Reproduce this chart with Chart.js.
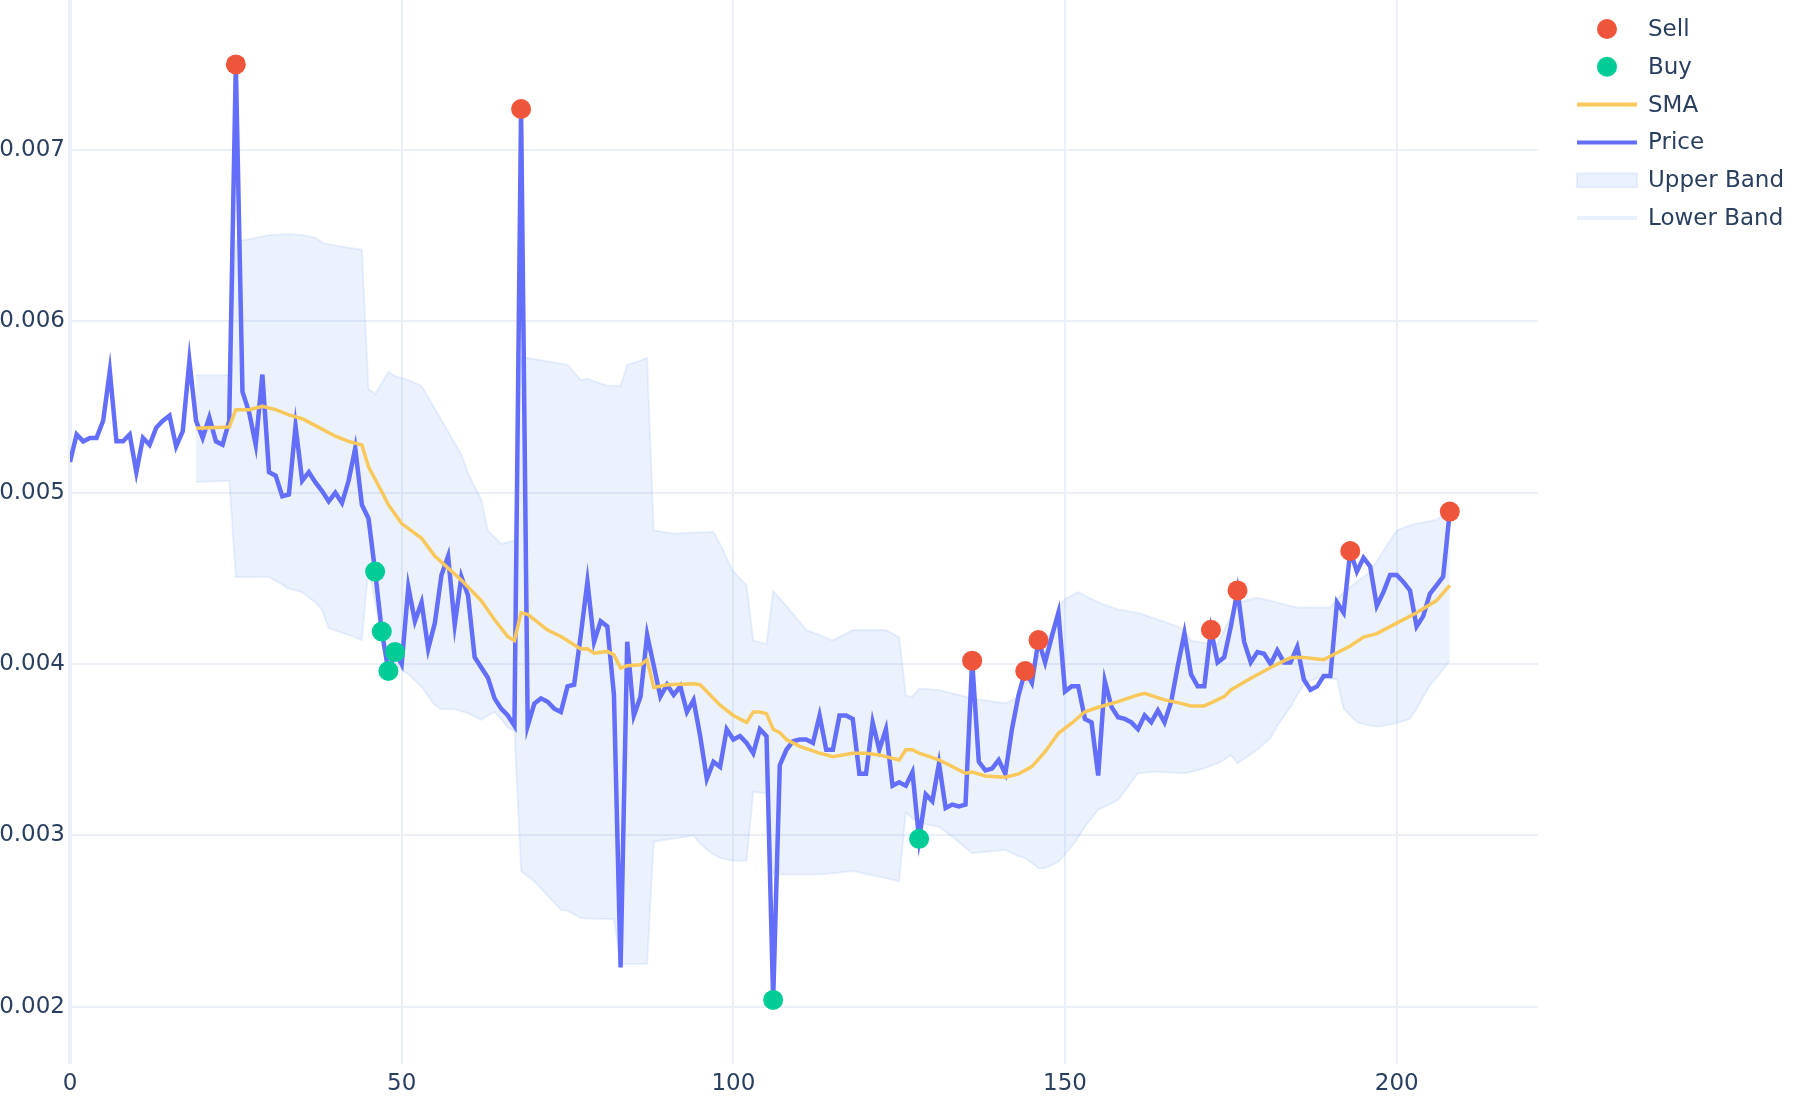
<!DOCTYPE html>
<html>
<head>
<meta charset="utf-8">
<script src="https://cdn.jsdelivr.net/npm/chart.js@4.4.1/dist/chart.umd.min.js"></script>
<style>
  html, body { margin: 0; padding: 0; background: #fff; }
  #wrap { width: 1800px; height: 1100px; }
</style>
</head>
<body>
<div id="wrap"><canvas id="grafico" width="1800" height="1100"></canvas></div>
<script>
// precio por indice (0..208)
const price = [
    0.00518, 0.00534, 0.00530, 0.00532, 0.00532, 0.00542, 0.00571, 0.00530, 0.00530, 0.00534,
    0.00512, 0.00532, 0.00528, 0.00538, 0.00542, 0.00545, 0.00527, 0.00536, 0.00577, 0.00542,
    0.00532, 0.00544, 0.00530, 0.00528, 0.00542, 0.00750, 0.00559, 0.00547, 0.00528, 0.00569,
    0.00512, 0.00510, 0.00498, 0.00499, 0.00539, 0.00507, 0.00512, 0.00506, 0.00501, 0.00495,
    0.00500, 0.00494, 0.00507, 0.00526, 0.00493, 0.00485, 0.00454, 0.00419, 0.00396, 0.00407,
    0.00400, 0.00445, 0.00425, 0.00436, 0.00409, 0.00424, 0.00452, 0.00463, 0.00423, 0.00451,
    0.00440, 0.00404, 0.00398, 0.00392, 0.00380, 0.00374, 0.00370, 0.00364, 0.00724, 0.00364,
    0.00377, 0.00380, 0.00378, 0.00374, 0.00372, 0.00387, 0.00388, 0.00417, 0.00448, 0.00413,
    0.00425, 0.00422, 0.00382, 0.00223, 0.00413, 0.00370, 0.00381, 0.00417, 0.00399, 0.00381,
    0.00388, 0.00382, 0.00387, 0.00372, 0.00379, 0.00358, 0.00333, 0.00343, 0.00340, 0.00362,
    0.00356, 0.00358, 0.00354, 0.00348, 0.00362, 0.00358, 0.00204, 0.00341, 0.00350, 0.00355,
    0.00356, 0.00356, 0.00354, 0.00370, 0.00350, 0.00350, 0.00370, 0.00370, 0.00368, 0.00336,
    0.00336, 0.00366, 0.00350, 0.00362, 0.00329, 0.00331, 0.00329, 0.00337, 0.00298, 0.00324,
    0.00320, 0.00342, 0.00316, 0.00318, 0.00317, 0.00318, 0.00402, 0.00343, 0.00338, 0.00339,
    0.00344, 0.00336, 0.00362, 0.00382, 0.00396, 0.00389, 0.00414, 0.00401, 0.00416, 0.00430,
    0.00384, 0.00387, 0.00387, 0.00368, 0.00366, 0.00335, 0.00390, 0.00375, 0.00369, 0.00368,
    0.00366, 0.00362, 0.00370, 0.00366, 0.00373, 0.00366, 0.00378, 0.00399, 0.00418, 0.00394,
    0.00387, 0.00387, 0.00420, 0.00401, 0.00404, 0.00422, 0.00443, 0.00413, 0.00401, 0.00407,
    0.00406, 0.00400, 0.00408, 0.00401, 0.00401, 0.00410, 0.00391, 0.00385, 0.00387, 0.00393,
    0.00393, 0.00436, 0.00430, 0.00466, 0.00454, 0.00462, 0.00457, 0.00434, 0.00442, 0.00452,
    0.00452, 0.00448, 0.00443, 0.00422, 0.00428, 0.00441, 0.00446, 0.00451, 0.00489
];

// señales (indices sobre price)
const sellIdx = [25, 68, 136, 144, 146, 172, 176, 193, 208];
const buyIdx = [46, 47, 48, 49, 106, 128];

// media movil
const smaX = [19, 24, 25, 27, 29, 31, 33, 35, 37, 40, 42, 44, 45, 47, 48, 50, 53, 55, 57, 59,
    62, 64, 66, 67, 68, 69, 72, 74, 77, 78, 79, 81, 82, 83, 84, 86, 87, 88, 90, 94,
    95, 96, 98, 100, 102, 103, 104, 105, 106, 107, 108, 110, 113, 115, 118, 120, 122, 124, 125, 126,
    127, 128, 131, 135, 136, 138, 141, 143, 145, 147, 149, 151, 153, 155, 158, 161, 162, 165, 167, 169,
    171, 174, 175, 178, 181, 184, 186, 189, 191, 193, 195, 197, 200, 203, 206, 208];
const smaY = [0.005376, 0.005384, 0.005485, 0.005485, 0.005505, 0.005485, 0.005455, 0.005432, 0.005392, 0.005330,
    0.005300, 0.005279, 0.005152, 0.005006, 0.004930, 0.004820, 0.004734, 0.004630, 0.004560, 0.004490,
    0.004370, 0.004259, 0.004160, 0.004138, 0.004299, 0.004290, 0.004199, 0.004161, 0.004088, 0.004090,
    0.004064, 0.004074, 0.004054, 0.003977, 0.003990, 0.003996, 0.004025, 0.003864, 0.003879, 0.003885,
    0.003880, 0.003840, 0.003760, 0.003700, 0.003660, 0.003720, 0.003720, 0.003710, 0.003620, 0.003600,
    0.003560, 0.003520, 0.003480, 0.003460, 0.003480, 0.003480, 0.003470, 0.003450, 0.003440, 0.003500,
    0.003500, 0.003480, 0.003441, 0.003363, 0.003370, 0.003347, 0.003340, 0.003359, 0.003402, 0.003489,
    0.003596, 0.003655, 0.003722, 0.003748, 0.003781, 0.003820, 0.003830, 0.003791, 0.003775, 0.003756,
    0.003756, 0.003810, 0.003849, 0.003917, 0.003980, 0.004038, 0.004038, 0.004026, 0.004066, 0.004106,
    0.004158, 0.004178, 0.004239, 0.004300, 0.004371, 0.004460];

// bandas de bollinger: mismas x para la superior y la inferior
const bandX = [19, 24, 25, 27, 30, 33, 35, 37, 38, 39, 42, 44, 45, 46, 47, 48, 49, 50, 51, 53,
    55, 56, 58, 59, 60, 62, 63, 64, 65, 66, 67, 68, 70, 74, 75, 77, 78, 81, 82, 83,
    84, 87, 88, 91, 93, 94, 95, 96, 97, 98, 100, 102, 103, 105, 106, 108, 111, 113, 115, 118,
    123, 125, 126, 127, 128, 131, 133, 136, 141, 143, 144, 145, 146, 147, 148, 149, 150, 151, 152, 153,
    155, 158, 161, 164, 167, 168, 169, 171, 173, 174, 175, 176, 179, 181, 182, 184, 185, 186, 188, 190,
    191, 192, 194, 196, 197, 198, 200, 202, 203, 205, 206, 207, 208];
const upperY = [0.005686, 0.005686, 0.006470, 0.006480, 0.006505, 0.006510, 0.006505, 0.006490, 0.006460, 0.006450,
    0.006430, 0.006420, 0.005606, 0.005577, 0.005640, 0.005706, 0.005680, 0.005670, 0.005658, 0.005625,
    0.005490, 0.005425, 0.005290, 0.005223, 0.005114, 0.004962, 0.004780, 0.004741, 0.004701, 0.004711,
    0.004721, 0.005794, 0.005780, 0.005755, 0.005746, 0.005658, 0.005665, 0.005625, 0.005625, 0.005625,
    0.005746, 0.005786, 0.004781, 0.004761, 0.004765, 0.004768, 0.004770, 0.004771, 0.004773, 0.004701,
    0.004540, 0.004460, 0.004138, 0.004118, 0.004428, 0.004339, 0.004199, 0.004170, 0.004138, 0.004199,
    0.004199, 0.004158, 0.003817, 0.003810, 0.003857, 0.003849, 0.003830, 0.003800, 0.003771, 0.003810,
    0.003880, 0.003957, 0.004040, 0.004120, 0.004200, 0.004330, 0.004380, 0.004400, 0.004420, 0.004400,
    0.004360, 0.004319, 0.004300, 0.004260, 0.004220, 0.004190, 0.004138, 0.004125, 0.004118, 0.004200,
    0.004280, 0.004360, 0.004387, 0.004370, 0.004360, 0.004340, 0.004331, 0.004331, 0.004330, 0.004330,
    0.004380, 0.004420, 0.004480, 0.004540, 0.004600, 0.004661, 0.004780, 0.004810, 0.004820, 0.004835,
    0.004842, 0.004870, 0.004902];
const lowerY = [0.005063, 0.005070, 0.004508, 0.004509, 0.004510, 0.004440, 0.004420, 0.004360, 0.004316, 0.004209,
    0.004170, 0.004140, 0.004560, 0.004360, 0.004160, 0.004024, 0.004000, 0.003966, 0.003940, 0.003868,
    0.003760, 0.003736, 0.003736, 0.003725, 0.003713, 0.003674, 0.003700, 0.003720, 0.003680, 0.003630,
    0.003610, 0.002792, 0.002732, 0.002566, 0.002560, 0.002518, 0.002515, 0.002513, 0.002512, 0.002249,
    0.002249, 0.002249, 0.002965, 0.002980, 0.002993, 0.002998, 0.002953, 0.002916, 0.002890, 0.002868,
    0.002852, 0.002852, 0.003254, 0.003246, 0.002772, 0.002772, 0.002772, 0.002772, 0.002780, 0.002792,
    0.002750, 0.002732, 0.003133, 0.003100, 0.003073, 0.003050, 0.002993, 0.002896, 0.002915, 0.002880,
    0.002867, 0.002840, 0.002809, 0.002809, 0.002827, 0.002845, 0.002890, 0.002935, 0.002990, 0.003051,
    0.003149, 0.003207, 0.003363, 0.003372, 0.003365, 0.003363, 0.003370, 0.003392, 0.003420, 0.003441,
    0.003470, 0.003421, 0.003500, 0.003570, 0.003640, 0.003750, 0.003820, 0.003880, 0.003920, 0.003915,
    0.003910, 0.003740, 0.003660, 0.003640, 0.003636, 0.003640, 0.003656, 0.003680, 0.003740, 0.003877,
    0.003920, 0.003970, 0.004018];

const xTicks = [0, 50, 100, 150, 200];
const yTicks = [0.002, 0.003, 0.004, 0.005, 0.006, 0.007];

const AZUL = '#636EFA';
const ROJO = '#EF553B';
const VERDE = '#00CC96';
const SMA_COLOR = '#F9C85A';
const BANDA_FILL = 'rgba(100,150,240,0.13)';
const BANDA_LINEA = 'rgba(100,150,240,0.12)';
const GRID = '#EBF0F8';
const TEXTO = '#2a3f5f';

function pares(xs, ys) {
    return xs.map((x, i) => ({ x: x, y: ys[i] }));
}

const pricePts = price.map((v, i) => ({ x: i, y: v }));
const sellPts = sellIdx.map(i => ({ x: i, y: price[i] }));
const buyPts = buyIdx.map(i => ({ x: i, y: price[i] }));

// leyenda dibujada a mano (estilo plotly)
const legendItems = [
    { label: 'Sell', kind: 'dot', color: ROJO },
    { label: 'Buy', kind: 'dot', color: VERDE },
    { label: 'SMA', kind: 'line', color: SMA_COLOR },
    { label: 'Price', kind: 'line', color: AZUL },
    { label: 'Upper Band', kind: 'box', color: BANDA_FILL },
    { label: 'Lower Band', kind: 'line', color: 'rgba(100,150,240,0.14)' }
];

const leyendaPlugin = {
    id: 'leyenda',
    afterDraw(chart) {
        const ctx = chart.ctx;
        ctx.save();
        ctx.font = '23px "DejaVu Sans"';
        ctx.textBaseline = 'middle';
        legendItems.forEach((it, i) => {
            const y = 29 + i * 37.8;
            if (it.kind === 'dot') {
                ctx.fillStyle = it.color;
                ctx.beginPath();
                ctx.arc(1607, y, 10, 0, Math.PI * 2);
                ctx.fill();
            } else if (it.kind === 'line') {
                ctx.strokeStyle = it.color;
                ctx.lineWidth = 4;
                ctx.beginPath();
                ctx.moveTo(1577, y);
                ctx.lineTo(1637, y);
                ctx.stroke();
            } else {
                ctx.fillStyle = it.color;
                ctx.fillRect(1577, y - 7, 60, 14);
                ctx.strokeStyle = BANDA_LINEA;
                ctx.lineWidth = 2;
                ctx.strokeRect(1577, y - 7, 60, 14);
            }
            ctx.fillStyle = TEXTO;
            ctx.fillText(it.label, 1648, y + 1);
        });
        ctx.restore();
    }
};

Chart.defaults.font.family = '"DejaVu Sans"';
Chart.defaults.font.size = 23;
Chart.defaults.color = TEXTO;

new Chart(document.getElementById('grafico'), {
    type: 'line',
    data: {
        datasets: [
            { label: 'Sell', data: sellPts, showLine: false, pointRadius: 10, pointHoverRadius: 10,
              pointBackgroundColor: ROJO, pointBorderWidth: 0, borderColor: ROJO },
            { label: 'Buy', data: buyPts, showLine: false, pointRadius: 10, pointHoverRadius: 10,
              pointBackgroundColor: VERDE, pointBorderWidth: 0, borderColor: VERDE },
            { label: 'SMA', data: pares(smaX, smaY), borderColor: SMA_COLOR, borderWidth: 3.5,
              pointRadius: 0, tension: 0, fill: false },
            { label: 'Price', data: pricePts, borderColor: AZUL, borderWidth: 4.5,
              pointRadius: 0, tension: 0, fill: false },
            { label: 'Upper Band', data: pares(bandX, upperY), borderColor: BANDA_LINEA, borderWidth: 2,
              backgroundColor: BANDA_FILL, pointRadius: 0, tension: 0, fill: '+1' },
            { label: 'Lower Band', data: pares(bandX, lowerY), borderColor: BANDA_LINEA, borderWidth: 2,
              pointRadius: 0, tension: 0, fill: false }
        ]
    },
    options: {
        responsive: false,
        animation: false,
        devicePixelRatio: 1,
        layout: { autoPadding: false, padding: { left: 0, top: 0, right: 262, bottom: 0 } },
        plugins: { legend: { display: false }, tooltip: { enabled: false } },
        scales: {
            x: {
                type: 'linear',
                min: 0,
                max: 221.3,
                border: { display: false },
                grid: {
                    color: GRID,
                    lineWidth: c => (c.tick && c.tick.value === 0 ? 4 : 2),
                    drawTicks: false
                },
                ticks: { padding: 6, maxRotation: 0, autoSkip: false, callback: v => String(v) },
                afterBuildTicks: axis => { axis.ticks = xTicks.map(v => ({ value: v })); },
                afterFit: axis => { axis.height = 36; axis.paddingLeft = 0; axis.paddingRight = 0; }
            },
            y: {
                type: 'linear',
                min: 0.001666,
                max: 0.007876,
                border: { display: false },
                grid: { color: GRID, lineWidth: 2, drawTicks: false },
                ticks: { padding: 5, autoSkip: false, callback: v => v.toFixed(3) },
                afterBuildTicks: axis => { axis.ticks = yTicks.map(v => ({ value: v })); },
                afterFit: axis => { axis.width = 70; axis.paddingTop = 0; axis.paddingBottom = 0; }
            }
        }
    },
    plugins: [leyendaPlugin]
});
</script>
</body>
</html>
